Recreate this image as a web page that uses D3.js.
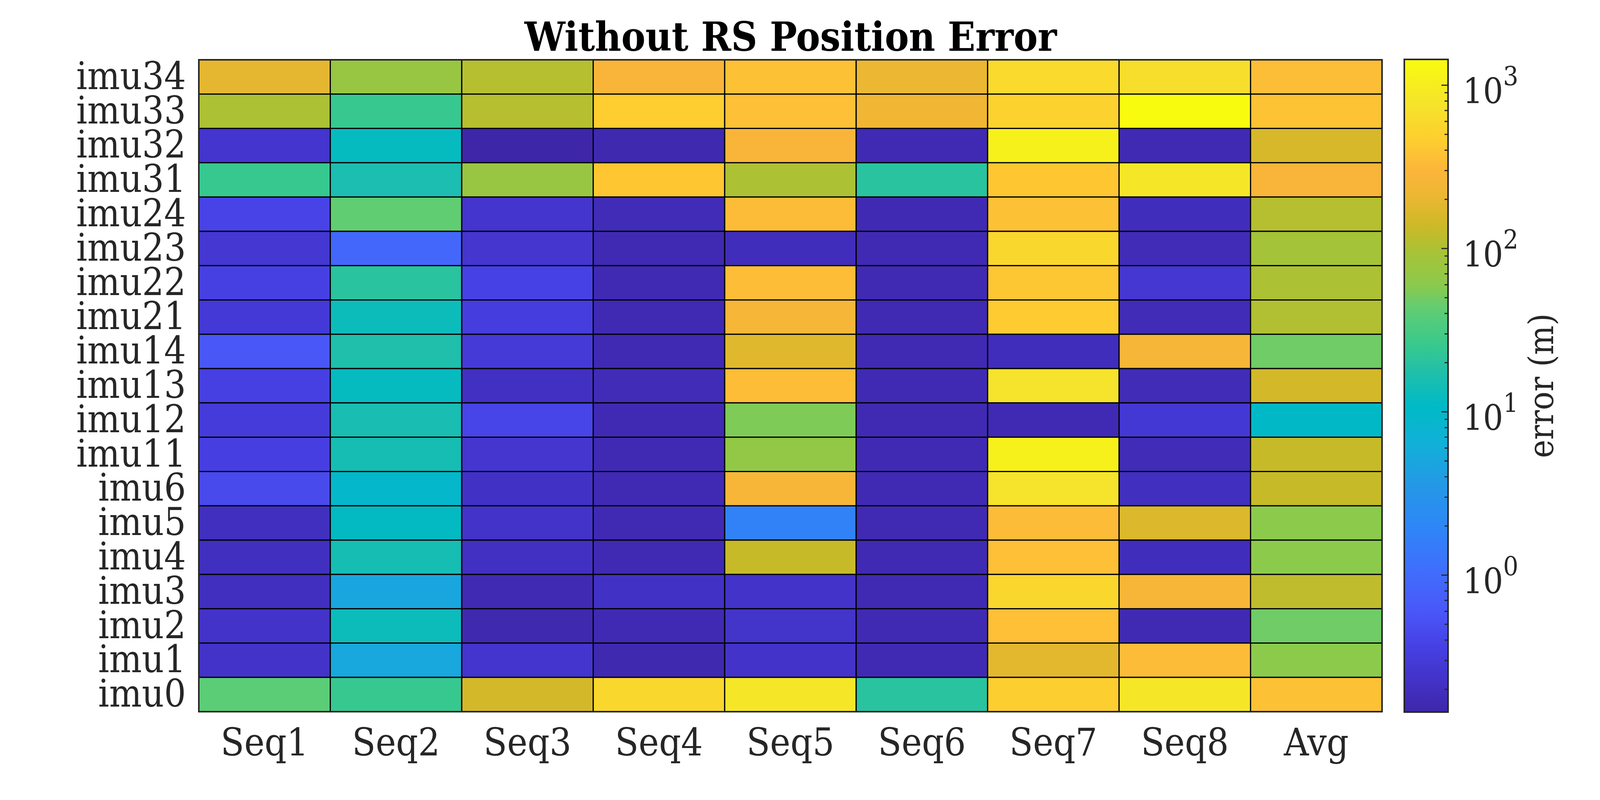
<!DOCTYPE html>
<html>
<head>
<meta charset="utf-8">
<script src="https://cdn.jsdelivr.net/npm/d3@7"></script>
<style>
  body { margin: 0; background: #fff; }
</style>
</head>
<body>
<script>
// columns and rows of the heatmap
const seqs = ['Seq1', 'Seq2', 'Seq3', 'Seq4', 'Seq5', 'Seq6', 'Seq7', 'Seq8', 'Avg'];
const imus = ['imu34', 'imu33', 'imu32', 'imu31', 'imu24', 'imu23', 'imu22', 'imu21', 'imu14',
  'imu13', 'imu12', 'imu11', 'imu6', 'imu5', 'imu4', 'imu3', 'imu2', 'imu1', 'imu0'];

// position error (m), one row per imu, columns Seq1..Seq8, Avg
const errImu34 = [190, 75, 110, 280, 370, 210, 620, 680, 350];
const errImu33 = [100, 25, 110, 450, 360, 230, 510, 1439, 380];
const errImu32 = [0.25, 12, 0.145, 0.16, 280, 0.17, 1100, 0.17, 160];
const errImu31 = [25, 16, 75, 410, 100, 20, 410, 850, 280];
const errImu24 = [0.39, 43, 0.25, 0.18, 340, 0.17, 370, 0.19, 110];
const errImu23 = [0.27, 0.9, 0.26, 0.17, 0.19, 0.17, 580, 0.18, 92];
const errImu22 = [0.36, 20, 0.37, 0.17, 345, 0.17, 400, 0.27, 100];
const errImu21 = [0.29, 13, 0.33, 0.17, 260, 0.17, 440, 0.18, 105];
const errImu14 = [0.6, 17, 0.3, 0.17, 175, 0.17, 0.19, 260, 48];
const errImu13 = [0.36, 12, 0.21, 0.18, 345, 0.17, 760, 0.18, 150];
const errImu12 = [0.31, 15.5, 0.4, 0.17, 54, 0.17, 0.17, 0.28, 10.5];
const errImu11 = [0.34, 15, 0.26, 0.17, 68, 0.17, 1100, 0.18, 130];
const errImu6 = [0.45, 9.5, 0.22, 0.17, 270, 0.17, 760, 0.2, 130];
const errImu5 = [0.2, 11.5, 0.23, 0.17, 1.8, 0.17, 340, 165, 60];
const errImu4 = [0.2, 15, 0.21, 0.17, 130, 0.17, 360, 0.19, 60];
const errImu3 = [0.2, 5, 0.17, 0.22, 0.23, 0.17, 580, 270, 120];
const errImu2 = [0.23, 13, 0.16, 0.17, 0.24, 0.17, 360, 0.17, 48];
const errImu1 = [0.23, 5.2, 0.25, 0.16, 0.23, 0.17, 185, 340, 60];
const errImu0 = [40, 25, 150, 580, 850, 20, 460, 850, 370];

const rows = [errImu34, errImu33, errImu32, errImu31, errImu24, errImu23, errImu22, errImu21, errImu14,
  errImu13, errImu12, errImu11, errImu6, errImu5, errImu4, errImu3, errImu2, errImu1, errImu0];

const majorTicks = [1, 10, 100, 1000];

// flatten into cells
const cells = [];
imus.forEach((imu, i) => {
  seqs.forEach((seq, j) => {
    cells.push({ imu: imu, seq: seq, v: rows[i][j] });
  });
});

// parula-like colormap
const parulaT = [0, 0.04, 0.1, 0.157, 0.22, 0.284, 0.348, 0.41, 0.47, 0.514, 0.565, 0.617,
  0.655, 0.706, 0.745, 0.79, 0.83, 0.872, 0.936, 1];
const parulaC = ['#3e26a8', '#4230c2', '#4640e4', '#4a58f8', '#3f6ffd', '#2e86f6', '#2498e6',
  '#12b0d8', '#00bac5', '#1dbeae', '#3ac98c', '#5fcd74', '#8cca4c', '#a8c236', '#cdb927',
  '#ecb732', '#fcb53b', '#fecc30', '#f5e52a', '#f9fb0e'];
const parula = d3.scaleLinear().domain(parulaT).range(parulaC).interpolate(d3.interpolateRgb).clamp(true);

const ext = d3.extent(cells, d => d.v);
const lmin = Math.log10(ext[0]), lmax = Math.log10(ext[1]);
const color = v => parula((Math.log10(v) - lmin) / (lmax - lmin));

const W = 4219, H = 2047;
const svg = d3.select('body').append('svg')
  .attr('width', W)
  .attr('height', H);

// pick the condensed serif if it is there, otherwise a narrow serif
const probe = (fam) => {
  const t = svg.append('text').attr('font-family', fam).attr('font-size', 100).text('imu34 Seq1');
  const w = t.node().getComputedTextLength();
  t.remove();
  return w;
};
const wCond = probe('"DejaVu Serif Condensed"');
const wReg = probe('"DejaVu Serif"');
const condensed = wCond < wReg * 0.95;
const fam = condensed ? '"DejaVu Serif Condensed", "DejaVu Serif", serif' : '"Liberation Serif", serif';
const fs = condensed
  ? { tick: 98, title: 103, cb: 90, sup: 68, lab: 88 }
  : { tick: 108, title: 120, cb: 96, sup: 72, lab: 100 };

const x = d3.scaleBand().domain(seqs).range([509, 3538]);
const y = d3.scaleBand().domain(imus).range([153, 1821]);

// cells
svg.append('g')
  .selectAll('rect')
  .data(cells)
  .enter()
  .append('rect')
  .attr('x', d => x(d.seq))
  .attr('y', d => y(d.imu))
  .attr('width', x.bandwidth())
  .attr('height', y.bandwidth())
  .attr('fill', d => color(d.v))
  .attr('stroke', '#000')
  .attr('stroke-width', 3);

// axis box
svg.append('rect')
  .attr('x', 509).attr('y', 153)
  .attr('width', 3538 - 509).attr('height', 1821 - 153)
  .attr('fill', 'none')
  .attr('stroke', '#262626')
  .attr('stroke-width', 4);

// y labels
svg.append('g')
  .selectAll('text')
  .data(imus)
  .enter()
  .append('text')
  .attr('x', 476)
  .attr('y', d => y(d) + y.bandwidth() / 2 + 31)
  .attr('text-anchor', 'end')
  .attr('font-family', fam)
  .attr('font-size', fs.tick)
  .attr('fill', '#262626')
  .text(d => d);

// x labels
svg.append('g')
  .selectAll('text')
  .data(seqs)
  .enter()
  .append('text')
  .attr('x', d => x(d) + x.bandwidth() / 2)
  .attr('y', 1933)
  .attr('text-anchor', 'middle')
  .attr('font-family', fam)
  .attr('font-size', fs.tick)
  .attr('fill', '#262626')
  .text(d => d);

// title
svg.append('text')
  .attr('x', 2024)
  .attr('y', 130)
  .attr('text-anchor', 'middle')
  .attr('font-family', fam)
  .attr('font-size', fs.title)
  .attr('font-weight', 'bold')
  .attr('fill', '#000')
  .text('Without RS Position Error');

// colorbar
const cbX0 = 3595, cbX1 = 3707, cbY0 = 152, cbY1 = 1822;
const cbScale = d3.scaleLog().domain(ext).range([cbY1, cbY0]);

const grad = svg.append('defs').append('linearGradient')
  .attr('id', 'cbgrad')
  .attr('x1', 0).attr('y1', 1).attr('x2', 0).attr('y2', 0);
grad.selectAll('stop')
  .data(d3.range(0, 1.0001, 0.01))
  .enter()
  .append('stop')
  .attr('offset', d => d)
  .attr('stop-color', d => parula(d));

svg.append('rect')
  .attr('x', cbX0).attr('y', cbY0)
  .attr('width', cbX1 - cbX0).attr('height', cbY1 - cbY0)
  .attr('fill', 'url(#cbgrad)')
  .attr('stroke', '#262626')
  .attr('stroke-width', 4);

// log ticks
const minorTicks = [];
for (let k = -1; k <= 3; k++) {
  for (let m = 2; m <= 9; m++) {
    const v = m * Math.pow(10, k);
    if (v > ext[0] && v < ext[1]) minorTicks.push(v);
  }
}
svg.append('g')
  .selectAll('line')
  .data(minorTicks)
  .enter()
  .append('line')
  .attr('x1', cbX1 - 9).attr('x2', cbX1)
  .attr('y1', d => cbScale(d)).attr('y2', d => cbScale(d))
  .attr('stroke', '#262626')
  .attr('stroke-width', 3);
svg.append('g')
  .selectAll('line')
  .data(majorTicks)
  .enter()
  .append('line')
  .attr('x1', cbX1 - 17).attr('x2', cbX1)
  .attr('y1', d => cbScale(d)).attr('y2', d => cbScale(d))
  .attr('stroke', '#262626')
  .attr('stroke-width', 3);

const lbl = svg.append('g')
  .selectAll('text')
  .data(majorTicks)
  .enter()
  .append('text')
  .attr('x', 3745)
  .attr('y', d => cbScale(d) + 46)
  .attr('font-family', fam)
  .attr('font-size', fs.cb)
  .attr('fill', '#262626');
lbl.append('tspan').text('10');
lbl.append('tspan')
  .attr('dy', -46)
  .attr('font-size', fs.sup)
  .text(d => Math.round(Math.log10(d)));

svg.append('text')
  .attr('transform', 'translate(3976,987) rotate(-90)')
  .attr('text-anchor', 'middle')
  .attr('font-family', fam)
  .attr('font-size', fs.lab)
  .attr('fill', '#262626')
  .text('error (m)');
</script>
</body>
</html>
